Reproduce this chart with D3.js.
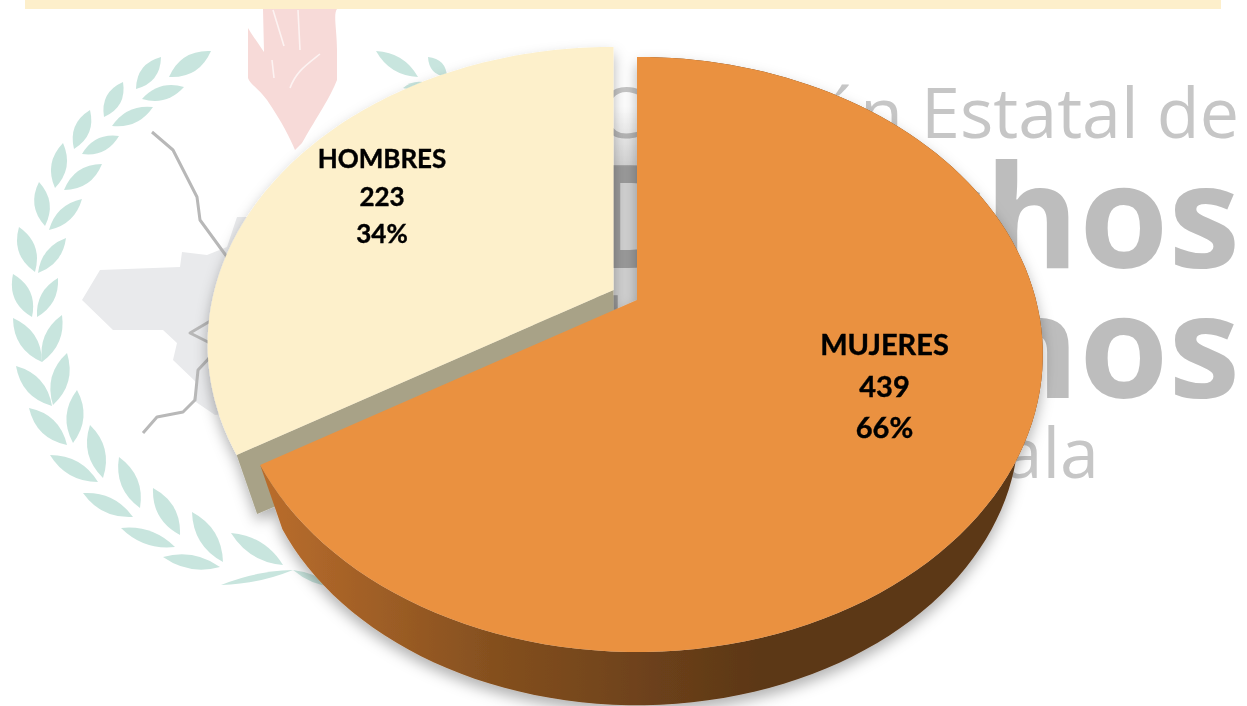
<!DOCTYPE html>
<html>
<head>
<meta charset="utf-8">
<script src="https://cdn.jsdelivr.net/npm/d3@7"></script>
<style>
  html, body { margin: 0; background: #fff; }
  svg { display: block; }
</style>
</head>
<body>
<div id="viz"></div>
<script>
// Chart data
const categories = ['MUJERES', 'HOMBRES'];
const counts = [439, 223];
const percentLabels = ['66%', '34%'];

// Watermark text behind the pie
const watermarkLines = ['Comisión Estatal de', 'Derechos', 'Humanos', 'Tlaxcala'];

// Wreath leaves of the watermark, as [x1, y1, x2, y2, half width]
const leaves = [
  [211,51,169,77,10],[161,57,136,89,9],[184,87,142,99,8],[123,82,104,117,9],[153,107,112,126,8],
  [90,110,74,149,9],[119,136,82,154,8],[63,143,55,188,9],[102,164,64,190,9],[39,182,45,226,9],
  [82,199,49,230,8],[19,227,35,272,10],[66,238,38,273,8],[13,274,32,317,10],[58,278,37,317,8],
  [13,318,42,362,10],[62,315,42,362,9],[16,366,52,406,10],[67,353,53,405,10],[29,408,67,445,10],
  [77,390,73,443,10],[50,455,98,482,9],[90,425,103,478,10],[83,493,133,517,9],[119,457,140,508,10],
  [121,528,175,547,8],[153,488,180,535,10],[163,557,220,567,8],[192,512,223,562,10],[231,533,283,565,9],
  [221,585,293,570,4],[293,570,333,587,4],[376,51,418,77,8],[428,57,447,77,7],[403,88,427,83,4]
];

const width = 1247;
const height = 706;

const svg = d3.select("#viz")
  .append("svg")
  .attr("width", width)
  .attr("height", height);

const defs = svg.append("defs");

const sideGradient = defs.append("linearGradient")
  .attr("id", "sideGradient")
  .attr("gradientUnits", "userSpaceOnUse")
  .attr("x1", 270).attr("x2", 760).attr("y1", 0).attr("y2", 0);
sideGradient.append("stop").attr("offset", "0%").attr("stop-color", "#b86c2c");
sideGradient.append("stop").attr("offset", "45%").attr("stop-color", "#85501f");
sideGradient.append("stop").attr("offset", "100%").attr("stop-color", "#5c3717");

const gapGradient = defs.append("linearGradient")
  .attr("id", "gapGradient")
  .attr("x1", 0).attr("x2", 0).attr("y1", 0).attr("y2", 1);
gapGradient.append("stop").attr("offset", "0%").attr("stop-color", "#d0d0d0").attr("stop-opacity", 0);
gapGradient.append("stop").attr("offset", "30%").attr("stop-color", "#d0d0d0").attr("stop-opacity", 1);
gapGradient.append("stop").attr("offset", "100%").attr("stop-color", "#d0d0d0").attr("stop-opacity", 1);

const shadow = defs.append("filter")
  .attr("id", "pieShadow")
  .attr("x", "-10%").attr("y", "-10%").attr("width", "120%").attr("height", "120%");
shadow.append("feDropShadow")
  .attr("dx", 0).attr("dy", 7)
  .attr("stdDeviation", 7)
  .attr("flood-color", "#000")
  .attr("flood-opacity", 0.3);

const soften = defs.append("filter").attr("id", "soften");
soften.append("feGaussianBlur").attr("stdDeviation", 0.7);

// Watermark
const watermark = svg.append("g")
  .attr("class", "watermark")
  .attr("filter", "url(#soften)");

watermark.selectAll("path.leaf")
  .data(leaves)
  .enter().append("path")
  .attr("class", "leaf")
  .attr("fill", "#c8e5de")
  .attr("d", d => {
    const [x1, y1, x2, y2, w] = d;
    const mx = (x1 + x2) / 2, my = (y1 + y2) / 2;
    const len = Math.hypot(x2 - x1, y2 - y1);
    const nx = -(y2 - y1) / len * w * 1.7, ny = (x2 - x1) / len * w * 1.7;
    return `M${x1},${y1}Q${mx + nx},${my + ny} ${x2},${y2}Q${mx - nx},${my - ny} ${x1},${y1}Z`;
  });

// Hand
watermark.append("path")
  .attr("fill", "#f7dad8")
  .attr("d", "M295,150C290,138 282,122 267,100C258,88 250,84 248,78L248,28C254,38 260,46 264,52L263,9L337,9C333,14 337,30 337,50L337,80C330,98 318,115 302,143Z");
watermark.append("path")
  .attr("fill", "none")
  .attr("stroke", "#fdf3f2")
  .attr("stroke-width", 1.6)
  .attr("d", "M273,10L284,46M298,10L300,50M290,88C296,72 305,66 320,54M272,60L274,78");

// State map
watermark.append("path")
  .attr("fill", "#e9eaec")
  .attr("d", "M82,300L100,270L180,267L182,252L207,255L227,247L237,217L260,217L260,420L240,412L215,415L193,400L197,383L173,360L177,343L163,330L113,330Z");
watermark.append("path")
  .attr("fill", "none")
  .attr("stroke", "#b8b8b8")
  .attr("stroke-width", 3)
  .attr("stroke-linejoin", "round")
  .attr("d", "M152,132L173,150L197,197L200,220L227,257");
watermark.append("path")
  .attr("fill", "none")
  .attr("stroke", "#b8b8b8")
  .attr("stroke-width", 3)
  .attr("stroke-linejoin", "round")
  .attr("d", "M212,320L190,333L210,343M212,355L198,370L195,400L183,412L157,417L143,433");

const wmStyle = [
  { x: 1239, y: 138, size: 70, weight: 400, color: "#c6c6c6", gap: 0 },
  { x: 1240, y: 268, size: 144, weight: 700, color: "#bdbdbd", gap: -17 },
  { x: 1240, y: 398, size: 144, weight: 700, color: "#bdbdbd", gap: 31 },
  { x: 1099, y: 478, size: 70, weight: 400, color: "#c6c6c6", gap: 0 }
];
const wmText = watermark.selectAll("text")
  .data(watermarkLines)
  .enter().append("text")
  .attr("x", (d, i) => wmStyle[i].x)
  .attr("y", (d, i) => wmStyle[i].y)
  .attr("text-anchor", "end")
  .attr("font-family", "'Open Sans'")
  .attr("font-size", (d, i) => wmStyle[i].size)
  .attr("font-weight", (d, i) => wmStyle[i].weight)
  .attr("fill", (d, i) => wmStyle[i].color);

// first letter sits at a slightly different distance from the rest of the word than the font sets it
wmText.append("tspan").text(d => d[0]);
wmText.append("tspan").attr("dx", (d, i) => wmStyle[i].gap).text(d => d.slice(1));

// Top band
svg.append("rect")
  .attr("x", 25).attr("y", 0)
  .attr("width", 1196).attr("height", 9)
  .attr("fill", "#fdefcb");

// Pie geometry: a flat disc seen in perspective, so the centre sits above the middle of the ellipse
const center = { x: 637, y: 300 };
const radiusX = 399;
const radiusY = 287.6;
const tilt = 0.183;
const depthScale = 0.941;
const depthDrop = 74;
const explode = [{ x: 0, y: 0 }, { x: -23.5, y: -10 }];

const arcs = d3.pie().sort(null)(counts);

function rimPoint(angle, shift, lower) {
  const u = Math.sin(angle), v = -Math.cos(angle);
  const w = 1 - tilt * v;
  const s = lower ? depthScale : 1;
  return [
    center.x + shift.x + s * radiusX * u / w,
    center.y + shift.y + s * radiusY * v / w + (lower ? depthDrop : 0)
  ];
}

function rimPoints(arc, shift, lower) {
  const steps = 120;
  const angle = d3.scaleLinear().domain([0, steps]).range([arc.startAngle, arc.endAngle]);
  return d3.range(steps + 1).map(i => rimPoint(angle(i), shift, lower));
}

const line = d3.line();

function topPath(arc, shift) {
  return line([[center.x + shift.x, center.y + shift.y], ...rimPoints(arc, shift, false)]) + "Z";
}

// Shadow in the gap between the slices
const gapTop = rimPoint(arcs[0].startAngle, explode[1], false);
svg.append("path")
  .attr("fill", "url(#gapGradient)")
  .style("mix-blend-mode", "multiply")
  .attr("d", line([
    [gapTop[0], gapTop[1] + 60],
    [center.x, gapTop[1] + 60],
    [center.x, center.y + 10],
    [gapTop[0], center.y + 10]
  ]) + "Z");

const pie = svg.append("g").attr("filter", "url(#pieShadow)");

// HOMBRES wall
const hombresTip = rimPoint(arcs[1].startAngle, explode[1], false);
const hombresTipLow = rimPoint(arcs[1].startAngle, explode[1], true);
const wallDepth = d3.interpolateArray(hombresTip, hombresTipLow)(0.92);
pie.append("path")
  .attr("fill", "#a8a287")
  .attr("d", line([
    [center.x + explode[1].x, center.y + explode[1].y],
    hombresTip,
    wallDepth,
    [center.x + explode[1].x, center.y + explode[1].y + depthDrop]
  ]) + "Z");

pie.append("path")
  .attr("fill", "#fdf0cb")
  .attr("d", topPath(arcs[1], explode[1]));

// MUJERES side and top
pie.append("path")
  .attr("fill", "url(#sideGradient)")
  .attr("d", line([
    ...rimPoints(arcs[0], explode[0], false),
    ...rimPoints(arcs[0], explode[0], true).reverse()
  ]) + "Z");

pie.append("path")
  .attr("fill", "#ea9140")
  .attr("d", topPath(arcs[0], explode[0]));

// Labels
const labelX = [884.5, 382];
const labelY = [355, 168];
const labelStep = [41.5, 37.5];
const labelSize = [29, 26];

const labels = svg.selectAll("g.label")
  .data(categories)
  .enter().append("g")
  .attr("class", "label")
  .attr("text-anchor", "middle")
  .attr("font-family", "Lato")
  .attr("font-weight", 700)
  .attr("fill", "#000")
  .attr("stroke", "#000")
  .attr("stroke-width", 0.4);

labels.each(function(d, i) {
  [d, counts[i], percentLabels[i]].forEach((t, j) => {
    d3.select(this).append("text")
      .attr("x", labelX[i])
      .attr("y", labelY[i] + j * labelStep[i])
      .attr("font-size", labelSize[i])
      .text(t);
  });
});
</script>
</body>
</html>
